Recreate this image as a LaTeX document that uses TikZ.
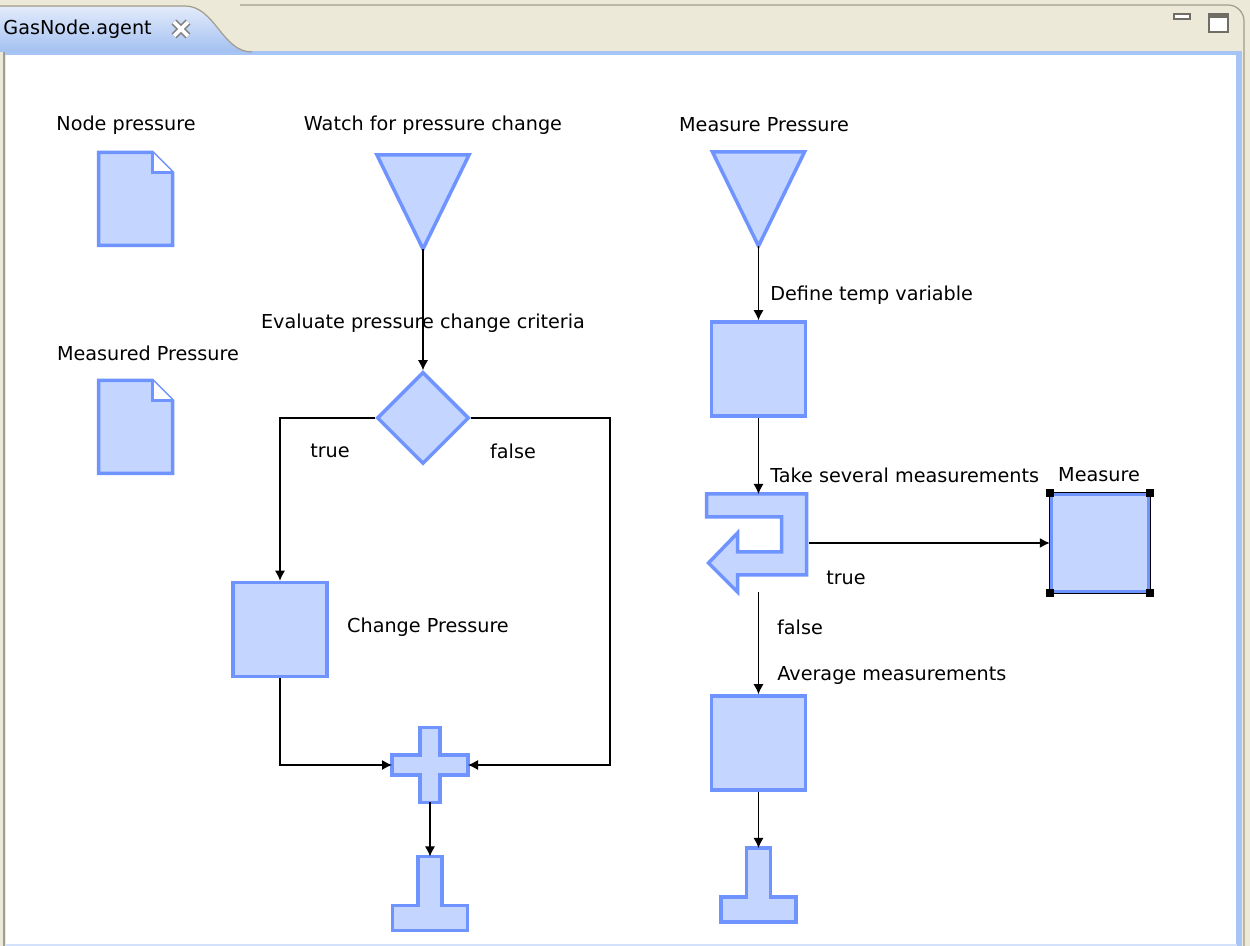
\documentclass[tikz,border=0pt]{standalone}
\usepackage{fontspec}
\setmainfont{DejaVu Sans}
\usepackage{xcolor}
\usepackage{tikz}
\usetikzlibrary{shapes.geometric, arrows.meta, positioning}
\definecolor{agbeige}{RGB}{236,233,216}
\definecolor{aggray}{RGB}{160,157,143}
\definecolor{agtabtop}{RGB}{226,235,251}
\definecolor{agtabbot}{RGB}{163,192,241}
\definecolor{agpanel}{RGB}{166,196,245}
\definecolor{agfill}{RGB}{196,214,255}
\definecolor{agline}{RGB}{112,148,255}
\newcommand{\lblfont}{\fontsize{9.6}{11}\selectfont}

\begin{document}
\begin{tikzpicture}[x=0.5pt, y=-0.5pt,
  elem/.style={draw=agline, fill=agfill, line width=1.75pt, line join=miter},
  taskbox/.style={elem, rectangle, inner sep=0pt, minimum width=47pt, minimum height=47pt},
  holder/.style={inner sep=0pt, outer sep=0pt},
  lbl/.style={font=\lblfont, inner sep=0pt},
  flow/.style={line width=0.6pt, -{Latex[length=5pt,width=5pt]}}]
  \useasboundingbox (0,0) rectangle (1250,946);
  % window frame
  \fill[agbeige] (0,0) rectangle (1250,946);
  \fill[white] (6,54) rectangle (1237,946);
  \fill[agpanel] (4,51) rectangle (1242,55);
  \fill[agpanel] (1236,51) rectangle (1242,946);
  \fill[agpanel!50] (6,944) rectangle (1237,946);
  \draw[aggray, line width=0.6pt] (4,52) -- (4,946);
  \draw[aggray, line width=0.6pt, rounded corners=8pt] (240,5) -- (1244,5) -- (1244,946);
  \shade[top color=agtabtop, bottom color=agtabbot]
    (0,52) -- (0,7) -- (185,7) .. controls (215,7) and (222,52) .. (252,52) -- cycle;
  \draw[aggray, line width=0.6pt] (0,6) -- (185,6) .. controls (215,6) and (222,52) .. (252,52);
  \node[lbl, anchor=west] (tabname) at (3,29) {GasNode.agent};
  \draw[gray, line width=3.5pt] (174,22) -- (188,36) (174,36) -- (188,22);
  \draw[white, line width=1.8pt] (174,22) -- (188,36) (174,36) -- (188,22);
  \draw[aggray!70!black, line width=1pt, fill=white] (1174,14) rectangle (1190,19);
  \draw[aggray!70!black, line width=1pt, fill=white] (1209,14) rectangle (1228,32);
  \fill[aggray!70!black] (1209,14) rectangle (1228,18);

  % data elements
  \node[holder, minimum width=37pt, minimum height=46.5pt] (nodepress) at (135.5,199) {};
  \node[holder, minimum width=37pt, minimum height=46.5pt] (measpress) at (135.5,427) {};
  \foreach \d in {nodepress, measpress} {
    \draw[elem] (\d.north west) -- ([xshift=-10pt]\d.north east) -- ([yshift=-10pt]\d.north east)
      -- (\d.south east) -- (\d.south west) -- cycle;
    \draw[elem, fill=white] ([xshift=-10pt]\d.north east) -- ++(0,-10pt) -- ++(10pt,0);
  }
  \node[lbl] (nodepresslbl) at (126,125) {Node pressure};
  \node[lbl] (measpresslbl) at (148,353) {Measured Pressure};

  % left flow
  \node[holder, minimum width=46pt, minimum height=47pt] (watch) at (423,202) {};
  \draw[elem] (watch.north west) -- (watch.north east) -- (watch.south) -- cycle;
  \node[lbl] (watchlbl) at (433,125) {Watch for pressure change};
  \node[elem, diamond, aspect=1, inner sep=0pt, minimum width=46pt, minimum height=46pt] (criteria) at (423,418) {};
  \node[taskbox] (change) at (280,629.5) {};
  \node[lbl] (changelbl) at (428,627) {Change Pressure};
  \node[holder, minimum width=38pt, minimum height=37.5pt] (merge) at (430,765) {};
  \draw[elem] ([xshift=-5pt]merge.north) -- ++(10pt,0) -- ++(0,-13.75pt) -- ++(14pt,0)
    -- ++(0,-10pt) -- ++(-14pt,0) -- ++(0,-13.75pt) -- ++(-10pt,0) -- ++(0,13.75pt)
    -- ++(-14pt,0) -- ++(0,10pt) -- ++(14pt,0) -- cycle;
  \node[holder, minimum width=37.5pt, minimum height=37pt] (finish) at (430,893.5) {};
  \draw[elem] ([xshift=-6pt]finish.north) -- ++(12pt,0) -- ++(0,-24.5pt) -- ++(12.75pt,0)
    -- ++(0,-12.5pt) -- ++(-37.5pt,0) -- ++(0,12.5pt) -- ++(12.75pt,0) -- cycle;
  \coordinate (falsebend) at (610,765);

  \draw[flow] (watch.south) -- (criteria.north);
  \node[lbl] (criterialbl) at (423,323) {Evaluate pressure change criteria};
  \draw[flow] (criteria.west) -| (change.north);
  \draw[flow] (criteria.east) -| (falsebend) -- (merge.east);
  \draw[flow] (change.south) |- (merge.west);
  \draw[flow] (merge.south) -- (finish.north);
  \node[lbl] (truelbl) at (330,451) {true};
  \node[lbl] (falselbl) at (513,451) {false};

  % right flow
  \node[holder, minimum width=46pt, minimum height=47pt] (measure) at (758.5,199) {};
  \draw[elem] (measure.north west) -- (measure.north east) -- (measure.south) -- cycle;
  \node[lbl] (measurelbl) at (764,125) {Measure Pressure};
  \node[taskbox] (deftemp) at (758.5,369) {};
  \node[lbl, anchor=west] (deftemplbl) at (770,295) {Define temp variable};
  \node[holder, minimum width=50pt, minimum height=49pt] (repeat) at (758.5,543) {};
  \draw[elem] ([xshift=-1pt]repeat.north west) -- ++(50pt,0) -- ++(0,-40.5pt) -- ++(-34.5pt,0)
    -- ++(0,-8.5pt) -- ++(-14.5pt,14.5pt) -- ++(14.5pt,15pt) -- ++(0,-9.5pt)
    -- ++(22pt,0) -- ++(0,17.5pt) -- ++(-37.5pt,0) -- cycle;
  \node[lbl, anchor=west] (repeatlbl) at (770,475) {Take several measurements};
  \node[taskbox, minimum width=48.5pt, minimum height=48.5pt] (single) at (1100,543) {};
  \draw[black, line width=0.6pt] (single.north west) rectangle (single.south east);
  \foreach \c in {north west, north east, south west, south east}
    \fill[black] ([shift={(-2pt,-2pt)}]single.\c) rectangle ++(4pt,4pt);
  \node[lbl] (singlelbl) at (1099,475) {Measure};
  \node[taskbox] (average) at (758.5,743) {};
  \node[lbl, anchor=west] (averagelbl) at (777,676) {Average measurements};
  \node[holder, minimum width=37.5pt, minimum height=37pt] (stop) at (758.5,885) {};
  \draw[elem] ([xshift=-6pt]stop.north) -- ++(12pt,0) -- ++(0,-24.5pt) -- ++(12.75pt,0)
    -- ++(0,-12.5pt) -- ++(-37.5pt,0) -- ++(0,12.5pt) -- ++(12.75pt,0) -- cycle;

  \draw[flow] (measure.south) -- (deftemp.north);
  \draw[flow] (deftemp.south) -- (repeat.north);
  \draw[flow] (repeat.east) -- (single.west);
  \draw[flow] (repeat.south) -- (average.north);
  \draw[flow] (average.south) -- (stop.north);
  \node[lbl] (true2lbl) at (846,578) {true};
  \node[lbl] (false2lbl) at (800,627) {false};
\end{tikzpicture}
\end{document}
